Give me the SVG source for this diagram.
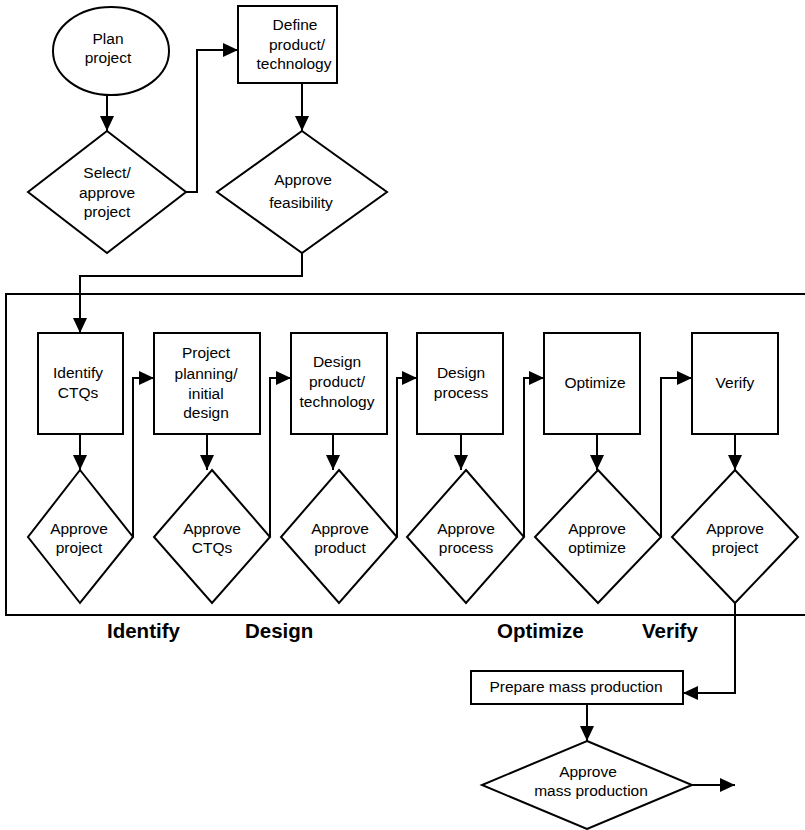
<svg xmlns="http://www.w3.org/2000/svg" width="805" height="830" viewBox="0 0 805 830">
<style>
.s{fill:#fff;stroke:#000;stroke-width:2}
.c{fill:none;stroke:#000;stroke-width:2}
.t{font-family:"Liberation Sans",Arial,sans-serif;font-size:15.5px;fill:#000;text-anchor:middle}
.b{font-family:"Liberation Sans",Arial,sans-serif;font-size:20.5px;font-weight:bold;fill:#000}
</style>
<defs>
<marker id="ah" markerUnits="userSpaceOnUse" markerWidth="15" markerHeight="14" refX="15" refY="7" orient="auto">
<path d="M0,0 L15,7 L0,14 z" fill="#000"/>
</marker>
</defs>
<rect id="frame" x="6" y="294" width="812" height="321" fill="none" stroke="#000" stroke-width="2"/>
<g id="plan"><ellipse class="s" cx="111" cy="51" rx="58" ry="44"/><text class="t" x="108" y="44">Plan</text><text class="t" x="108" y="63">project</text></g>
<g id="select"><polygon class="s" points="107,131 186,192 107,253 28,192"/><text class="t" x="107" y="178">Select/</text><text class="t" x="107" y="198">approve</text><text class="t" x="107" y="217">project</text></g>
<g id="define"><rect class="s" x="238" y="6" width="99" height="77"/><text class="t" x="295" y="30">Define</text><text class="t" x="297" y="50">product/</text><text class="t" x="294" y="69">technology</text></g>
<g id="feas"><polygon class="s" points="302,131 387,192 302,253 217,192"/><text class="t" x="303" y="185">Approve</text><text class="t" x="301" y="208">feasibility</text></g>
<g id="ctqs"><rect class="s" x="38" y="333" width="85" height="101"/><text class="t" x="78" y="378">Identify</text><text class="t" x="78" y="398">CTQs</text></g>
<g id="apj1"><polygon class="s" points="80,470 133,537 80,603 28,537"/><text class="t" x="79" y="534">Approve</text><text class="t" x="79" y="553">project</text></g>
<g id="plan2"><rect class="s" x="154" y="333" width="106" height="101"/><text class="t" x="206" y="358">Project</text><text class="t" x="206" y="379">planning/</text><text class="t" x="206" y="399">initial</text><text class="t" x="206" y="418">design</text></g>
<g id="actq"><polygon class="s" points="212,470 270,537 212,603 154,537"/><text class="t" x="212" y="534">Approve</text><text class="t" x="212" y="553">CTQs</text></g>
<g id="dprod"><rect class="s" x="291" y="333" width="96" height="101"/><text class="t" x="337" y="367">Design</text><text class="t" x="337" y="387">product/</text><text class="t" x="337" y="407">technology</text></g>
<g id="aprod"><polygon class="s" points="339,470 397,537 339,603 281,537"/><text class="t" x="340" y="534">Approve</text><text class="t" x="340" y="553">product</text></g>
<g id="dproc"><rect class="s" x="417" y="333" width="86" height="101"/><text class="t" x="461" y="378">Design</text><text class="t" x="461" y="398">process</text></g>
<g id="aproc"><polygon class="s" points="466,470 524,537 466,603 407,537"/><text class="t" x="466" y="534">Approve</text><text class="t" x="466" y="553">process</text></g>
<g id="opt"><rect class="s" x="544" y="333" width="96" height="101"/><text class="t" x="595" y="388">Optimize</text></g>
<g id="aopt"><polygon class="s" points="598,470 661,537 598,603 535,537"/><text class="t" x="597" y="534">Approve</text><text class="t" x="597" y="553">optimize</text></g>
<g id="ver"><rect class="s" x="692" y="333" width="86" height="101"/><text class="t" x="735" y="388">Verify</text></g>
<g id="apj2"><polygon class="s" points="735,470 798,537 735,603 672,537"/><text class="t" x="735" y="534">Approve</text><text class="t" x="735" y="553">project</text></g>
<g id="prep"><rect class="s" x="471" y="671" width="212" height="33"/><text class="t" x="576" y="692">Prepare mass production</text></g>
<g id="amass"><polygon class="s" points="587,741 692,785 587,829 482,785"/><text class="t" x="588" y="777">Approve</text><text class="t" x="591" y="796">mass production</text></g>
<g id="labels">
<text class="b" x="107" y="638">Identify</text>
<text class="b" x="245" y="638">Design</text>
<text class="b" x="497" y="638">Optimize</text>
<text class="b" x="642" y="638">Verify</text>
</g>
<g id="connectors" marker-end="url(#ah)">
<path class="c" d="M107,95 V131" marker-end="url(#ah)"/>
<path class="c" d="M186,192 H197 V50 H238" marker-end="url(#ah)"/>
<path class="c" d="M302,83 V131" marker-end="url(#ah)"/>
<path class="c" d="M302,253 V276 H80 V333" marker-end="url(#ah)"/>
<path class="c" d="M80,434 V470" marker-end="url(#ah)"/>
<path class="c" d="M133,537 V378 H154" marker-end="url(#ah)"/>
<path class="c" d="M207,434 V470" marker-end="url(#ah)"/>
<path class="c" d="M270,537 V378 H291" marker-end="url(#ah)"/>
<path class="c" d="M333,434 V470" marker-end="url(#ah)"/>
<path class="c" d="M397,537 V378 H417" marker-end="url(#ah)"/>
<path class="c" d="M461,434 V470" marker-end="url(#ah)"/>
<path class="c" d="M524,537 V378 H544" marker-end="url(#ah)"/>
<path class="c" d="M597,434 V470" marker-end="url(#ah)"/>
<path class="c" d="M661,537 V378 H692" marker-end="url(#ah)"/>
<path class="c" d="M735,434 V470" marker-end="url(#ah)"/>
<path class="c" d="M735,603 V693 H683" marker-end="url(#ah)"/>
<path class="c" d="M587,704 V741" marker-end="url(#ah)"/>
<path class="c" d="M692,785 H735" marker-end="url(#ah)"/>
</g>
</svg>
